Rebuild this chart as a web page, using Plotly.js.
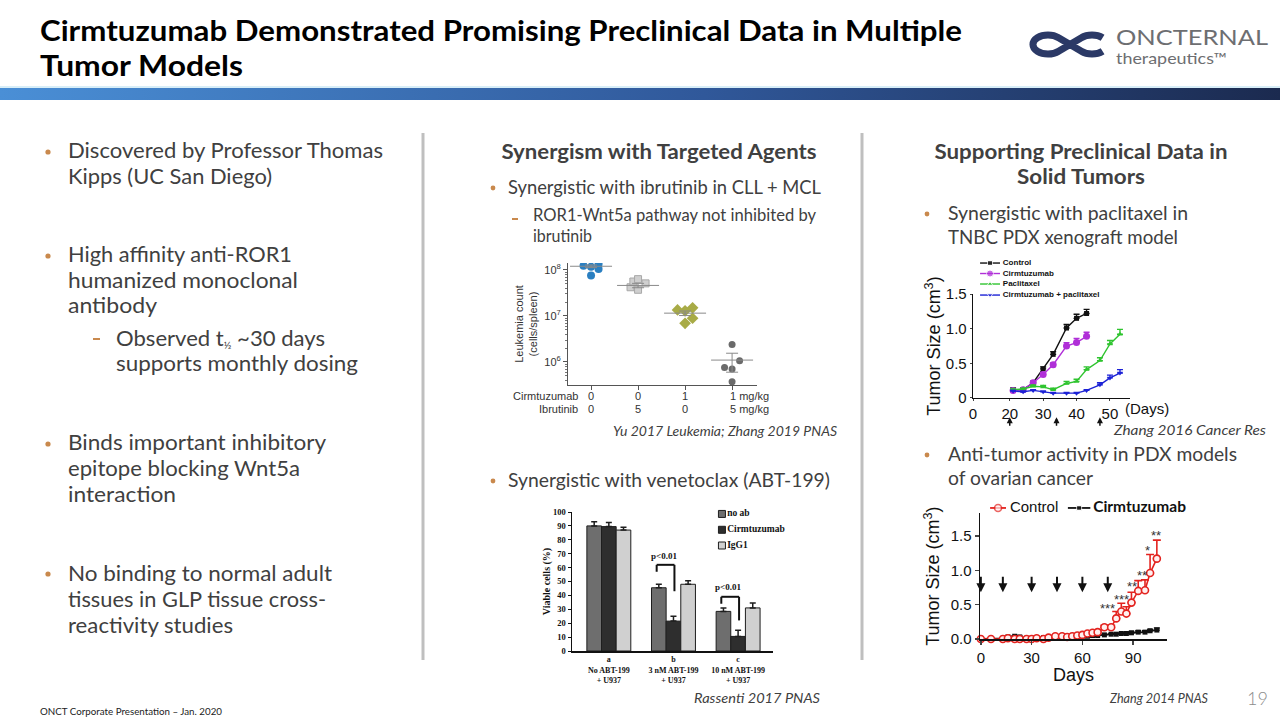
<!DOCTYPE html>
<html>
<head>
<meta charset="utf-8">
<script src="https://cdn.plot.ly/plotly-3.0.1.min.js"></script>
<style>
  html, body { margin: 0; padding: 0; background: #fff; }
  #slide { position: relative; width: 1280px; height: 720px; overflow: hidden; }
  #slide svg.bg { position: absolute; left: 0; top: 0; }
  .chart { position: absolute; }
  text { font-family: Lato, "Open Sans", sans-serif; }
</style>
</head>
<body>
<div id="slide">
<svg class="bg" width="1280" height="720" xmlns="http://www.w3.org/2000/svg">
  <defs>
    <linearGradient id="band" x1="0" x2="1" y1="0" y2="0">
      <stop offset="0" stop-color="#4a8fd6"/>
      <stop offset="0.55" stop-color="#30589a"/>
      <stop offset="1" stop-color="#1b2a4f"/>
    </linearGradient>
  </defs>

  <!-- title -->
  <text x="40" y="41" font-size="28" font-weight="700" fill="#000" textLength="922" lengthAdjust="spacingAndGlyphs">Cirmtuzumab Demonstrated Promising Preclinical Data in Multiple</text>
  <text x="40" y="76" font-size="28" font-weight="700" fill="#000" textLength="203" lengthAdjust="spacingAndGlyphs">Tumor Models</text>

  <!-- logo -->
  <path d="M1102.6 37.8 A15 9.5 0 0 0 1081.4 37.8 L1058.6 51.2 A15 9.5 0 1 1 1058.6 37.8 L1081.4 51.2 A15 9.5 0 0 0 1102.6 51.2"
        fill="none" stroke="#2b3966" stroke-width="7"/>
  <text x="1116" y="44.5" font-size="22" font-weight="400" fill="#6d6e71" textLength="152" lengthAdjust="spacingAndGlyphs">ONCTERNAL</text>
  <text x="1116" y="63.5" font-size="15" font-weight="400" fill="#6d6e71" textLength="111" lengthAdjust="spacingAndGlyphs">therapeutics™</text>

  <!-- band -->
  <rect x="0" y="86" width="1280" height="2" fill="#d8eef8"/>
  <rect x="0" y="88" width="1280" height="12" fill="url(#band)"/>

  <!-- separators -->
  <line x1="423" y1="133" x2="423" y2="660" stroke="#bfbfbf" stroke-width="3"/>
  <line x1="862" y1="133" x2="862" y2="660" stroke="#bfbfbf" stroke-width="3"/>

  <!-- left column -->
  <g fill="#404040" font-size="21">
    <circle cx="48" cy="152" r="2.6" fill="#c9894d"/>
    <text x="68" y="158" textLength="315" lengthAdjust="spacingAndGlyphs">Discovered by Professor Thomas</text>
    <text x="68" y="184" textLength="204" lengthAdjust="spacingAndGlyphs">Kipps (UC San Diego)</text>

    <circle cx="48" cy="256" r="2.6" fill="#c9894d"/>
    <text x="68" y="262" textLength="224" lengthAdjust="spacingAndGlyphs">High affinity anti-ROR1</text>
    <text x="68" y="288" textLength="230" lengthAdjust="spacingAndGlyphs">humanized monoclonal</text>
    <text x="68" y="313" textLength="89" lengthAdjust="spacingAndGlyphs">antibody</text>
    <rect x="93" y="338" width="7" height="2" fill="#c9894d"/>
    <text x="116" y="346" textLength="209" lengthAdjust="spacingAndGlyphs">Observed t<tspan font-size="10" dy="3">½</tspan><tspan dy="-3"> ~30 days</tspan></text>
    <text x="116" y="371" textLength="242" lengthAdjust="spacingAndGlyphs">supports monthly dosing</text>

    <circle cx="48" cy="444" r="2.6" fill="#c9894d"/>
    <text x="68" y="450" textLength="258" lengthAdjust="spacingAndGlyphs">Binds important inhibitory</text>
    <text x="68" y="476" textLength="232" lengthAdjust="spacingAndGlyphs">epitope blocking Wnt5a</text>
    <text x="68" y="502" textLength="108" lengthAdjust="spacingAndGlyphs">interaction</text>

    <circle cx="48" cy="574" r="2.6" fill="#c9894d"/>
    <text x="68" y="581" textLength="264" lengthAdjust="spacingAndGlyphs">No binding to normal adult</text>
    <text x="68" y="607" textLength="258" lengthAdjust="spacingAndGlyphs">tissues in GLP tissue cross-</text>
    <text x="68" y="633" textLength="165" lengthAdjust="spacingAndGlyphs">reactivity studies</text>
  </g>

  <!-- middle column -->
  <g fill="#404040">
    <text x="659" y="159" font-size="20" font-weight="700" text-anchor="middle" textLength="315" lengthAdjust="spacingAndGlyphs">Synergism with Targeted Agents</text>
    <circle cx="493" cy="188" r="2.4" fill="#c9894d"/>
    <text x="508" y="194" font-size="19" textLength="313" lengthAdjust="spacingAndGlyphs">Synergistic with ibrutinib in CLL + MCL</text>
    <rect x="512" y="218" width="6" height="2" fill="#c9894d"/>
    <text x="533" y="221" font-size="17" textLength="283" lengthAdjust="spacingAndGlyphs">ROR1-Wnt5a pathway not inhibited by</text>
    <text x="533" y="242" font-size="17" textLength="59" lengthAdjust="spacingAndGlyphs">ibrutinib</text>
    <text x="837" y="436" font-size="14" font-style="italic" text-anchor="end" textLength="224" lengthAdjust="spacingAndGlyphs">Yu 2017 Leukemia; Zhang 2019 PNAS</text>
    <circle cx="493" cy="481" r="2.4" fill="#c9894d"/>
    <text x="508" y="487" font-size="19" textLength="322" lengthAdjust="spacingAndGlyphs">Synergistic with venetoclax (ABT-199)</text>
    <text x="820" y="703" font-size="14" font-style="italic" text-anchor="end" textLength="126" lengthAdjust="spacingAndGlyphs">Rassenti 2017 PNAS</text>
  </g>

  <!-- right column -->
  <g fill="#404040">
    <text x="1081" y="159" font-size="20" font-weight="700" text-anchor="middle" textLength="293" lengthAdjust="spacingAndGlyphs">Supporting Preclinical Data in</text>
    <text x="1081" y="184" font-size="20" font-weight="700" text-anchor="middle" textLength="128" lengthAdjust="spacingAndGlyphs">Solid Tumors</text>
    <circle cx="927" cy="214" r="2.4" fill="#c9894d"/>
    <text x="948" y="220" font-size="19" textLength="240" lengthAdjust="spacingAndGlyphs">Synergistic with paclitaxel in</text>
    <text x="948" y="244" font-size="19" textLength="230" lengthAdjust="spacingAndGlyphs">TNBC PDX xenograft model</text>
    <text x="1266" y="435" font-size="14" font-style="italic" text-anchor="end" textLength="152" lengthAdjust="spacingAndGlyphs">Zhang 2016 Cancer Res</text>
    <circle cx="927" cy="455" r="2.4" fill="#c9894d"/>
    <text x="948" y="461" font-size="19" textLength="289" lengthAdjust="spacingAndGlyphs">Anti-tumor activity in PDX models</text>
    <text x="948" y="485" font-size="19" textLength="145" lengthAdjust="spacingAndGlyphs">of ovarian cancer</text>
    <text x="1208" y="703" font-size="14" font-style="italic" text-anchor="end" textLength="98" lengthAdjust="spacingAndGlyphs">Zhang 2014 PNAS</text>
    <text x="1268" y="705" font-size="18" font-weight="300" fill="#8c8c8c" text-anchor="end">19</text>
  </g>

  <text x="40" y="715" font-size="10" fill="#222" textLength="182" lengthAdjust="spacingAndGlyphs">ONCT Corporate Presentation – Jan. 2020</text>
</svg>

<div id="leuk" class="chart" style="left:500px;top:250px;width:300px;height:180px"></div>
<div id="abt" class="chart" style="left:530px;top:500px;width:270px;height:190px"></div>
<div id="tnbc" class="chart" style="left:920px;top:250px;width:260px;height:185px"></div>
<div id="ovar" class="chart" style="left:920px;top:490px;width:275px;height:195px"></div>
</div>

<script>
// ---------- ibrutinib combo (leukemia counts, log scale) ----------
const leukGroupX = [0, 1, 2, 3];
const cirmDose = ["0", "0", "1", "1 mg/kg"];
const ibruDose = ["0", "5", "0", "5 mg/kg"];
const vehCounts  = [1.23e8, 1.17e8, 1.35e8, 1.05e8, 7.6e7];
const vehJitter  = [-0.16, 0, 0.16, 0.16, 0];
const ibruCounts = [4.2e7, 5.6e7, 6.3e7, 3.7e7, 5.1e7];
const ibruJitter = [-0.16, -0.1, 0, 0, 0.16];
const cirmCounts = [1.35e7, 1.29e7, 1.5e7, 8.9e6, 6.9e6];
const cirmJitter = [-0.16, 0, 0.16, 0.16, 0];
const comboCounts = [2.4e6, 7.6e5, 7.0e5, 1.07e6, 3.7e5];
const comboJitter = [0, -0.16, 0, 0.16, 0];
const leukMean    = [1.2e8, 4.6e7, 1.15e7, 1.1e6];
const leukSemUp   = [8e6, 5e6, 1.3e6, 4.5e5];
const leukSemDown = [8e6, 5e6, 1.3e6, 5e5];

// ---------- venetoclax combo (viable cells) ----------
const abtGroups = ["a<br>No ABT-199<br>+ U937", "b<br>3 nM ABT-199<br>+ U937", "c<br>10 nM ABT-199<br>+ U937"];
const viableNoAb = [90, 45.5, 28.5];
const viableCirm = [89.5, 21.5, 10.5];
const viableIgG  = [87, 48, 31];
const errNoAb = [3, 2.5, 2.5];
const errCirm = [3, 3.5, 4.5];
const errIgG  = [2, 2.5, 3.5];

// ---------- TNBC PDX (paclitaxel) ----------
const tnbcDays = [21, 24, 27, 30, 33, 37, 40, 43, 47, 50, 53];
const tnbcControl = [0.12, 0.12, 0.22, 0.42, 0.63, 1.01, 1.15, 1.22];
const tnbcControlErr = [0.02, 0.02, 0.02, 0.03, 0.04, 0.05, 0.06, 0.06];
const tnbcCirm = [0.11, 0.12, 0.22, 0.34, 0.48, 0.75, 0.8, 0.89];
const tnbcCirmErr = [0.01, 0.01, 0.02, 0.03, 0.03, 0.05, 0.06, 0.06];
const tnbcPacli = [0.12, 0.13, 0.17, 0.16, 0.12, 0.21, 0.24, 0.41, 0.54, 0.78, 0.92];
const tnbcPacliErr = [0.01, 0.01, 0.02, 0.02, 0.02, 0.03, 0.03, 0.04, 0.04, 0.05, 0.07];
const tnbcCombo = [0.1, 0.09, 0.11, 0.09, 0.07, 0.07, 0.07, 0.11, 0.19, 0.29, 0.36];
const tnbcComboErr = [0.01, 0.01, 0.01, 0.01, 0.01, 0.01, 0.01, 0.01, 0.03, 0.04, 0.05];
const tnbcDoseDays = [20, 34, 47];

// ---------- ovarian PDX ----------
const ovDays = [0, 6, 13, 16, 20, 23, 27, 30, 33, 37, 40, 44, 48, 51, 54, 57, 60, 63, 66, 69, 73, 77, 80, 83, 86, 89, 93, 97, 100, 104];
const ovControl = [0, 0, 0, 0.01, 0, 0, 0, 0, 0.01, 0, 0.02, 0.04, 0.04, 0.03, 0.04, 0.05, 0.06, 0.08, 0.09, 0.1,
                   0.17, 0.17, 0.3, 0.4, 0.37, 0.53, 0.7, 0.71, 0.96, 1.17];
const ovControlErr = [0, 0, 0, 0.01, 0.01, 0, 0, 0, 0.01, 0.01, 0.01, 0.01, 0.01, 0.01, 0.01, 0.01, 0.01, 0.01, 0.02, 0.02,
                      0.03, 0.03, 0.1, 0.12, 0.1, 0.15, 0.15, 0.15, 0.27, 0.27];
const ovCirm = [0, 0, 0.01, 0.03, 0.04, 0.03, 0.01, 0.01, 0.02, 0.02, 0.03, 0.04, 0.03, 0.03, 0.04, 0.04, 0.04, 0.04, 0.05, 0.05,
                0.06, 0.07, 0.07, 0.08, 0.08, 0.09, 0.1, 0.1, 0.12, 0.13];
const ovCirmErr = [0, 0, 0.01, 0.01, 0.01, 0.01, 0.01, 0.01, 0.01, 0.01, 0.01, 0.01, 0.01, 0.01, 0.01, 0.01, 0.01, 0.01, 0.01, 0.01,
                   0.01, 0.01, 0.01, 0.01, 0.02, 0.02, 0.02, 0.02, 0.02, 0.03];
const ovStarDays = [75, 83, 89.5, 95.5, 98.5, 103.5];
const ovStarY    = [0.45, 0.57, 0.76, 0.93, 1.29, 1.51];
const ovStars    = ["***", "***", "**", "**", "*", "**"];
const ovDoseDays = [0, 13, 30, 45, 60, 75];

const ARIAL = "Arial, 'Liberation Sans', sans-serif";
const TIMES = "'Times New Roman', 'Liberation Serif', serif";
const CFG = { displayModeBar: false, staticPlot: true };
const zeros = a => a.map(() => 0);
const KEY_AXES = {
  xaxis2: { domain: [0, 1], range: [0, 1], visible: false, anchor: "y2" },
  yaxis2: { domain: [0, 1], range: [0, 1], visible: false, anchor: "x2" },
};

// hand-made key entry on the overlay axes: swatch from sx[0] to sx[1] (or a single marker), label at lx
function keyEntry(sx, lx, y, label, color, lineWidth, marker, font) {
  const swatch = {
    type: "scatter", xaxis: "x2", yaxis: "y2", cliponaxis: false, hoverinfo: "skip",
    mode: lineWidth ? "lines+markers" : "markers",
    x: lineWidth ? [sx[0], (sx[0] + sx[1]) / 2, sx[1]] : [sx[0]], y: lineWidth ? [y, y, y] : [y],
    line: { color, width: lineWidth || 1 },
    marker: lineWidth ? { ...marker, size: [0, marker.size, 0] } : marker,
  };
  const text = {
    type: "scatter", mode: "text", xaxis: "x2", yaxis: "y2", cliponaxis: false, hoverinfo: "skip",
    x: [lx], y: [y], text: [label], textposition: "middle right", textfont: font,
  };
  return [swatch, text];
}

/* ---- chart 1: leukemia counts ---- */
(function () {
  const dots = (counts, jitter, gi, marker) => ({
    type: "scatter", mode: "markers",
    x: jitter.map(j => leukGroupX[gi] + j), y: counts,
    marker, hoverinfo: "skip",
  });
  const traces = [
    dots(vehCounts, vehJitter, 0, { color: "#2a7fc1", size: 8, symbol: "circle" }),
    dots(ibruCounts, ibruJitter, 1, { color: "#cfcfcf", size: 7, symbol: "square", line: { color: "#a8a8a8", width: 1 } }),
    dots(cirmCounts, cirmJitter, 2, { color: "#a8ab46", size: 9, symbol: "diamond" }),
    dots(comboCounts, comboJitter, 3, { color: "#6a6a6a", size: 7, symbol: "circle" }),
    {
      type: "scatter", mode: "markers", x: leukGroupX, y: leukMean,
      marker: { symbol: "line-ew", size: 30, line: { color: "#8a8a8a", width: 1 } },
      error_y: { type: "data", array: leukSemUp, arrayminus: leukSemDown, color: "#8a8a8a", thickness: 1, width: 6 },
    },
  ];
  const ann = [];
  leukGroupX.forEach((gx, i) => {
    const last = i === leukGroupX.length - 1;
    [cirmDose[i], ibruDose[i]].forEach((t, r) => ann.push({
      x: gx, y: 0, xref: "x", yref: "paper", yanchor: "middle", yshift: -11 - 13 * r,
      xanchor: last ? "left" : "center", xshift: last ? -4 : 0, text: t, showarrow: false,
    }));
  });
  ["Cirmtuzumab", "Ibrutinib"].forEach((t, r) => ann.push({
    x: 0.065, y: 0, xref: "paper", yref: "paper", xanchor: "right", yanchor: "middle",
    yshift: -11 - 13 * r, text: t, showarrow: false,
  }));
  Plotly.newPlot("leuk", traces, {
    width: 300, height: 180, showlegend: false,
    margin: { l: 68, r: 43, t: 13, b: 45, pad: 0, autoexpand: false },
    paper_bgcolor: "rgba(0,0,0,0)", plot_bgcolor: "rgba(0,0,0,0)",
    font: { family: ARIAL, size: 11, color: "#333" },
    xaxis: { range: [-0.49, 3.53], showgrid: false, zeroline: false, showline: true, linecolor: "#555",
             ticks: "outside", ticklen: 4, tickcolor: "#555", tickvals: leukGroupX, showticklabels: false },
    yaxis: { type: "log", range: [5.5, 8.15], showgrid: false, zeroline: false, showline: true, linecolor: "#555",
             ticks: "outside", ticklen: 4, tickcolor: "#555", tickvals: [1e6, 1e7, 1e8],
             ticktext: ["10<sup>6</sup>", "10<sup>7</sup>", "10<sup>8</sup>"],
             minor: { ticks: "outside", ticklen: 2, tickcolor: "#777",
                      tickvals: [4e5, 5e5, 6e5, 7e5, 8e5, 9e5, 2e6, 3e6, 4e6, 5e6, 6e6, 7e6, 8e6, 9e6,
                                 2e7, 3e7, 4e7, 5e7, 6e7, 7e7, 8e7, 9e7] },
             title: { text: "Leukemia count<br>(cells/spleen)", standoff: 4, font: { size: 11 } } },
    annotations: ann,
  }, CFG);
})();

/* ---- chart 2: viable cells bars ---- */
(function () {
  const gx = [0, 1, 2];
  const bar = (name, y, err, color) => ({
    type: "bar", name, x: gx, y,
    marker: { color, line: { color: "#1e1e1e", width: 1 } },
    error_y: { type: "data", array: err, arrayminus: zeros(err), symmetric: false, color: "#1e1e1e", thickness: 1.5, width: 3 },
  });
  const keyFont = { family: TIMES, size: 9.5, color: "#111", weight: "bold" };
  const keyRows = [["no ab", "#6e6e6e", 0.986], ["Cirmtuzumab", "#2e2e2e", 0.872], ["IgG1", "#d0d0d0", 0.759]];
  const keyTraces = keyRows.flatMap(([name, color, y]) =>
    keyEntry([0.746], 0.772, y, name, color, 0,
      { symbol: "square", size: 7, color, line: { color: "#1e1e1e", width: 1 } }, keyFont));
  const seg = (x0, y0, x1, y1) => ({ type: "line", xref: "x", yref: "y", x0, y0, x1, y1, line: { color: "#111", width: 2 } });
  Plotly.newPlot("abt", [
    bar("no ab", viableNoAb, errNoAb, "#6e6e6e"),
    bar("Cirmtuzumab", viableCirm, errCirm, "#2e2e2e"),
    bar("IgG1", viableIgG, errIgG, "#d0d0d0"),
    ...keyTraces,
  ], {
    width: 270, height: 190, showlegend: false, barmode: "group", bargap: 0.32, bargroupgap: 0,
    margin: { l: 42, r: 27, t: 12.3, b: 39.3, pad: 0, autoexpand: false },
    paper_bgcolor: "rgba(0,0,0,0)", plot_bgcolor: "rgba(0,0,0,0)",
    font: { family: TIMES, size: 9, color: "#111", weight: "bold" },
    xaxis: { range: [-0.57, 2.54], tickvals: gx, ticktext: abtGroups, ticks: "", showgrid: false, zeroline: false,
             showline: true, linecolor: "#111", linewidth: 1.5, tickfont: { size: 8 } },
    yaxis: { range: [0, 100], dtick: 10, ticks: "outside", ticklen: 3, tickcolor: "#111", showgrid: false, zeroline: false,
             showline: true, linecolor: "#111", linewidth: 1.5, tickfont: { size: 8.5 },
             title: { text: "Viable cells (%)", standoff: 0, font: { size: 10 } } },
    ...KEY_AXES,
    shapes: [
      seg(0.74, 57, 0.74, 62), seg(0.74, 62, 1.015, 62), seg(1.015, 62, 1.015, 43),
      seg(1.74, 34, 1.74, 39), seg(1.74, 39, 2.015, 39), seg(2.015, 39, 2.015, 22),
    ],
    annotations: [
      { x: 0.86, y: 68.5, text: "p<0.01", showarrow: false, font: { size: 9 } },
      { x: 1.85, y: 45.8, text: "p<0.01", showarrow: false, font: { size: 9 } },
    ],
  }, CFG);
})();

/* ---- chart 3: TNBC PDX ---- */
(function () {
  const series = [
    ["Control", tnbcControl, tnbcControlErr, "#111111", "square", 5],
    ["Cirmtuzumab", tnbcCirm, tnbcCirmErr, "#b02fd8", "circle", 7],
    ["Paclitaxel", tnbcPacli, tnbcPacliErr, "#2fc42f", "triangle-up", 5],
    ["Cirmtuzumab + paclitaxel", tnbcCombo, tnbcComboErr, "#1c22d6", "triangle-down", 5],
  ];
  const traces = series.map(([name, y, err, color, symbol, size]) => ({
    type: "scatter", mode: "lines+markers", name, x: tnbcDays.slice(0, y.length), y,
    line: { color, width: 1.4 }, marker: { color, symbol, size },
    error_y: { type: "data", array: err, arrayminus: zeros(err), symmetric: false, color, thickness: 1.4, width: 3 },
    cliponaxis: false,
  }));
  const keyY = [0.978, 0.902, 0.826, 0.746];
  const keyFont = { family: ARIAL, size: 8, color: "#111", weight: "bold" };
  series.forEach(([name, , , color, symbol, size], i) =>
    traces.push(...keyEntry([0.045, 0.172], 0.19, keyY[i], name, color, 1.4, { color, symbol, size }, keyFont)));
  Plotly.newPlot("tnbc", traces, {
    width: 260, height: 185, showlegend: false,
    margin: { l: 53, r: 50, t: 10, b: 37.3, pad: 0, autoexpand: false },
    paper_bgcolor: "rgba(0,0,0,0)", plot_bgcolor: "rgba(0,0,0,0)",
    font: { family: ARIAL, size: 15, color: "#111" },
    xaxis: { range: [9, 56], tickvals: [9, 20, 30, 40, 50], ticktext: ["0", "20", "30", "40", "50"],
             ticks: "outside", ticklen: 2, showgrid: false, zeroline: false, showline: true, linecolor: "#111", linewidth: 1.3 },
    yaxis: { domain: [0, 0.753], range: [0, 1.5], tickvals: [0, 0.5, 1, 1.5], ticktext: ["0", "0.5", "1.0", "1.5"],
             ticks: "outside", ticklen: 2, showgrid: false, zeroline: false, showline: true, linecolor: "#111", linewidth: 1.3,
             title: { text: "Tumor Size (cm<sup>3</sup>)", standoff: 0, font: { size: 18 } } },
    ...KEY_AXES,
    annotations: [
      { x: 1.11, y: -0.075, xref: "paper", yref: "paper", xanchor: "center", yanchor: "middle",
        text: "(Days)", showarrow: false, font: { size: 15 } },
      ...tnbcDoseDays.map(d => ({
        x: d, y: -0.14, xref: "x", yref: "paper", text: "", showarrow: true,
        ax: 0, ay: 10, arrowhead: 2, arrowsize: 0.8, arrowwidth: 1.5, arrowcolor: "#111",
      })),
    ],
  }, CFG);
})();

/* ---- chart 4: ovarian PDX ---- */
(function () {
  const traces = [
    {
      type: "scatter", mode: "lines+markers", name: "Cirmtuzumab", x: ovDays, y: ovCirm,
      line: { color: "#111", width: 1.8 }, marker: { color: "#111", symbol: "square", size: 5 },
      error_y: { type: "data", array: ovCirmErr, arrayminus: zeros(ovCirmErr), symmetric: false, color: "#111", thickness: 1.3, width: 3 },
      cliponaxis: false,
    },
    {
      type: "scatter", mode: "lines+markers", name: "Control", x: ovDays, y: ovControl,
      line: { color: "#e3231f", width: 1.6 },
      marker: { color: "#fff0f0", symbol: "circle", size: 7, line: { color: "#e3231f", width: 1.6 } },
      error_y: { type: "data", array: ovControlErr, arrayminus: zeros(ovControlErr), symmetric: false, color: "#e3231f", thickness: 1.6, width: 4 },
      cliponaxis: false,
    },
  ];
  traces.push(
    ...keyEntry([0.054, 0.139], 0.16, 0.91, "Control", "#e3231f", 1.8,
      { color: "#fff0f0", symbol: "circle", size: 7, line: { color: "#e3231f", width: 1.6 } },
      { family: ARIAL, size: 15, color: "#111" }),
    ...keyEntry([0.47, 0.59], 0.605, 0.91, "Cirmtuzumab", "#111", 1.8, { color: "#111", symbol: "square", size: 5 },
      { family: "Lato, " + ARIAL, size: 15.5, color: "#111", weight: "bold" }),
  );
  const ann = ovStarDays.map((d, i) => ({
    x: d, y: ovStarY[i], text: ovStars[i], showarrow: false, font: { size: 13, color: "#333" },
  }));
  ovDoseDays.forEach(d => ann.push({
    x: d, y: 0.68, text: "", showarrow: true, ax: 0, ay: -17,
    arrowhead: 2, arrowsize: 0.9, arrowwidth: 2, arrowcolor: "#111",
  }));
  Plotly.newPlot("ovar", traces, {
    width: 275, height: 195, showlegend: false,
    margin: { l: 60, r: 28.3, t: 5, b: 45.7, pad: 0, autoexpand: false },
    paper_bgcolor: "rgba(0,0,0,0)", plot_bgcolor: "rgba(0,0,0,0)",
    font: { family: ARIAL, size: 15, color: "#111" },
    xaxis: { range: [-0.5, 110], tickvals: [0, 30, 60, 90], ticks: "outside", ticklen: 4, tickwidth: 1.5,
             showgrid: false, zeroline: false, showline: true, linecolor: "#111", linewidth: 1.5,
             title: { text: "Days", standoff: 2, font: { size: 18 } } },
    yaxis: { domain: [0, 0.873], range: [0, 1.83], tickvals: [0, 0.5, 1, 1.5], ticktext: ["0.0", "0.5", "1.0", "1.5"],
             ticks: "outside", ticklen: 4, tickwidth: 1.5, showgrid: false, zeroline: false, showline: true,
             linecolor: "#111", linewidth: 1.5,
             title: { text: "Tumor Size (cm<sup>3</sup>)", standoff: 6, font: { size: 18 } } },
    ...KEY_AXES,
    annotations: ann,
  }, CFG);
})();
</script>
</body>
</html>
